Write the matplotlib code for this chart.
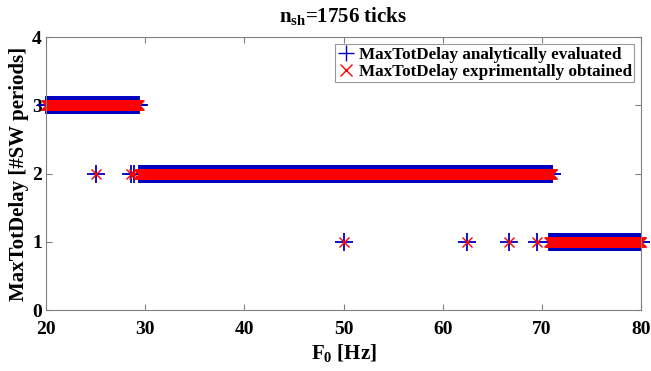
import numpy as np
import matplotlib.pyplot as plt

# segments of constant MaxTotDelay over F0 [Hz]
seg_lo = [20.0, 29.4, 70.75]
seg_hi = [29.35, 71.05, 80.0]
seg_delay = [3, 2, 1]
f_step = 0.05

# isolated frequencies
extra_f = [25.0, 28.55, 28.9, 50.0, 62.5, 66.67, 69.5]
extra_delay = [2, 2, 2, 1, 1, 1, 1]

f0 = []
delay = []
for lo, hi, d in zip(seg_lo, seg_hi, seg_delay):
    ff = np.arange(lo, hi + 1e-9, f_step)
    f0.extend(ff)
    delay.extend([d] * len(ff))
f0.extend(extra_f)
delay.extend(extra_delay)
f0 = np.array(f0)
delay = np.array(delay)

plt.rcParams['font.family'] = ['Liberation Serif', 'DejaVu Serif']
plt.rcParams['font.weight'] = 'bold'
plt.rcParams['mathtext.fontset'] = 'custom'
plt.rcParams['mathtext.rm'] = 'Liberation Serif:bold'
plt.rcParams['mathtext.bf'] = 'Liberation Serif:bold'

fig = plt.figure(figsize=(6.51, 3.71), dpi=100)
ax = fig.add_axes([0.0707, 0.1644, 0.914, 0.7351])

ax.plot(f0, delay, '+', color='#0000c0', markersize=13.5, markeredgewidth=1.3,
        clip_on=False, label='MaxTotDelay analytically evaluated')
ax.plot(f0, delay, 'x', color='#ff0000', markersize=7, markeredgewidth=1.0,
        clip_on=False, label='MaxTotDelay exprimentally obtained')

ax.set_xlim(20, 80)
ax.set_ylim(0, 4)
ax.set_xticks([20, 30, 40, 50, 60, 70, 80])
ax.set_yticks([0, 1, 2, 3, 4])
ax.tick_params(direction='in', top=True, right=True, length=4, color='#808080',
               labelsize=14)
ax.tick_params(axis='x', pad=8)
ax.tick_params(axis='y', pad=3)
for s in ax.spines.values():
    s.set_color('#808080')
    s.set_linewidth(0.8)

ax.set_title(r'$\mathregular{n_{sh}}$=1756 ticks', fontsize=15, fontweight='bold', pad=11)
ax.set_xlabel(r'$\mathregular{F_0}$ [Hz]', fontsize=15, fontweight='bold', labelpad=3)
ax.set_ylabel('MaxTotDelay [#SW periods]', fontsize=15, fontweight='bold', labelpad=2)

leg = ax.legend(loc='upper right', fontsize=12.3, frameon=True, fancybox=False,
                borderpad=0.15, handlelength=0.9, handletextpad=0.3,
                labelspacing=0.05, borderaxespad=0.4)
leg.get_frame().set_edgecolor('#808080')
leg.get_frame().set_linewidth(0.8)
leg.legend_handles[0].set_markersize(11)
leg.legend_handles[0].set_markeredgewidth(1.0)
leg.legend_handles[1].set_markersize(8)

fig.savefig('out.png', dpi=100)
